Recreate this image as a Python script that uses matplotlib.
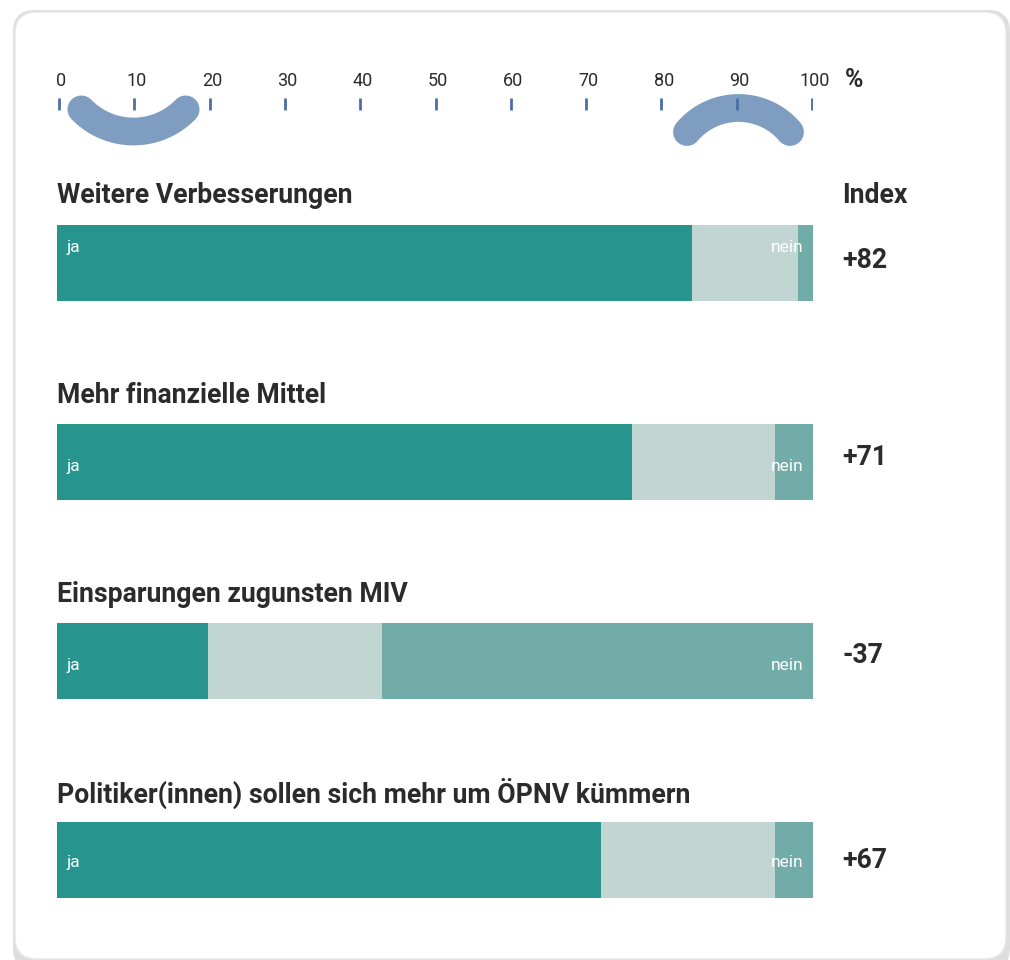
import matplotlib
matplotlib.use("Agg")
import matplotlib.pyplot as plt
import numpy as np
from matplotlib.patches import FancyBboxPatch

plt.rcParams['font.family'] = ['Roboto', 'DejaVu Sans']

# ---- data ----
categories = ["Weitere Verbesserungen", "Mehr finanzielle Mittel",
              "Einsparungen zugunsten MIV",
              "Politiker(innen) sollen sich mehr um ÖPNV kümmern"]
ja = [84, 76, 20, 72]
neutral = [14, 19, 23, 23]
nein = [2, 5, 57, 5]
index_labels = ["+82", "+71", "-37", "+67"]
tick_values = [0, 10, 20, 30, 40, 50, 60, 70, 80, 90, 100]

W, H = 1010, 960
fig = plt.figure(figsize=(W / 100, H / 100), dpi=100)
fig.patch.set_facecolor("white")

# card with shadow
bg = fig.add_axes([0, 0, 1, 1])
bg.set_xlim(0, W); bg.set_ylim(H, 0); bg.axis("off")
shadow = FancyBboxPatch((13, 10), 997, 960, boxstyle="round,pad=0,rounding_size=22",
                        fc="#dedede", ec="none", zorder=0)
card = FancyBboxPatch((15, 12), 991, 947, boxstyle="round,pad=0,rounding_size=22",
                      fc="white", ec="#e8e8e8", lw=1.0, zorder=1)
bg.add_patch(shadow); bg.add_patch(card)

# main axes: x in percent, y in pixels
x0, x1 = 57, 813
ax = fig.add_axes([x0 / W, 0, (x1 - x0) / W, 1])
ax.set_xlim(0, 100); ax.set_ylim(H, 0); ax.axis("off")
ax.patch.set_alpha(0)
scale = (x1 - x0) / 100.0

def px2x(px):
    return (np.asarray(px) - x0) / scale

C_JA = "#27948e"
C_MID = "#c1d5d3"
C_NEIN = "#72aca9"
C_TXT = "#2b2b2e"
C_ARC = "#7f9dc1"
C_TICK = "#4a6fa5"

# scale ticks
for t in tick_values:
    xt = px2x(59) + t * (812 - 59) / (x1 - x0)
    ax.plot([xt, xt], [98, 110], color=C_TICK, lw=2, solid_capstyle="butt", zorder=3)
    ax.text(xt + 0.3, 86, str(t), ha="center", va="baseline", fontsize=13,
            color=C_TXT)
ax.text(px2x(854), 87, "%", ha="center", va="baseline", fontsize=18,
        fontweight="bold", color=C_TXT)

# smile / frown arcs
def arc(cx, cy, r, a0, a1):
    a = np.radians(np.linspace(a0, a1, 100))
    return px2x(cx + r * np.cos(a)), cy + r * np.sin(a)

xs, ys = arc(133.5, 59, 72.5, 44, 136)
ax.plot(xs, ys, color=C_ARC, lw=20, solid_capstyle="round", zorder=2)
xs, ys = arc(738.5, 175.3, 67.3, -140, -40)
ax.plot(xs, ys, color=C_ARC, lw=20, solid_capstyle="round", zorder=2)

# bars
tops = [225, 424, 623, 822]
label_base = [252, 471, 670, 867]
index_base = [268, 465, 663, 868]
title_base = [203, 403, 602, 803]
bh = 76
for i, cat in enumerate(categories):
    yc = tops[i] + bh / 2
    ax.barh(yc, ja[i], height=bh, left=0, color=C_JA, zorder=2)
    ax.barh(yc, neutral[i], height=bh, left=ja[i], color=C_MID, zorder=2)
    ax.barh(yc, nein[i], height=bh, left=ja[i] + neutral[i], color=C_NEIN, zorder=2)
    ax.text(px2x(67), label_base[i], "ja", ha="left", va="baseline", fontsize=12.5,
            color="white", zorder=4)
    ax.text(px2x(803), label_base[i], "nein", ha="right", va="baseline",
            fontsize=12.5, color="white", zorder=4)
    ax.text(0, title_base[i], cat, ha="left", va="baseline", fontsize=19.2,
            fontweight="bold", color=C_TXT)
    ax.text(px2x(842), index_base[i], index_labels[i], ha="left",
            va="baseline", fontsize=19.2, fontweight="bold", color=C_TXT)

ax.text(px2x(842), 203, "Index", ha="left", va="baseline", fontsize=19.2,
        fontweight="bold", color=C_TXT)

fig.savefig("out.png", dpi=100, facecolor="white")
